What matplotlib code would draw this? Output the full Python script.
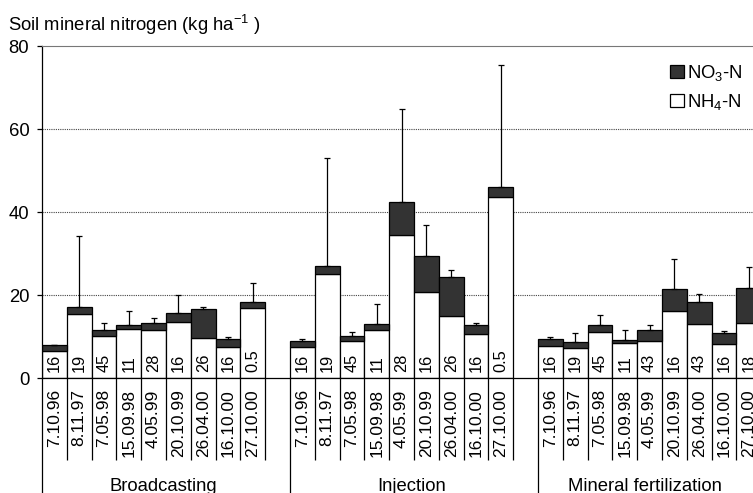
import matplotlib
matplotlib.use('Agg')
import matplotlib.pyplot as plt
import numpy as np
from matplotlib.patches import Patch, Rectangle

plt.rcParams['font.family'] = 'Liberation Sans'
plt.rcParams['mathtext.fontset'] = 'custom'
plt.rcParams['mathtext.rm'] = 'Liberation Sans'
plt.rcParams['mathtext.it'] = 'Liberation Sans:italic'

groups = ['Broadcasting', 'Injection', 'Mineral fertilization']
dates = ['7.10.96', '8.11.97', '7.05.98', '15.09.98', '4.05.99',
         '20.10.99', '26.04.00', '16.10.00', '27.10.00']

# NH4-N, NO3-N (kg/ha) and upper error per sampling date
nh4_broadcast = [6.6, 15.5, 10.2, 11.8, 11.6, 13.6, 9.7, 7.6, 16.9]
no3_broadcast = [1.5, 1.6, 1.4, 1.0, 1.8, 2.1, 6.9, 1.8, 1.4]
sd_broadcast = [0.0, 17.2, 1.8, 3.5, 1.1, 4.4, 0.7, 0.6, 4.7]
n_broadcast = ['16', '19', '45', '11', '28', '16', '26', '16', '0.5']

nh4_injection = [7.5, 25.1, 9.1, 11.7, 34.5, 20.7, 15.0, 10.7, 43.8]
no3_injection = [1.5, 1.9, 1.1, 1.5, 7.9, 8.8, 9.3, 2.1, 2.2]
sd_injection = [0.5, 26.0, 1.0, 4.6, 22.6, 7.4, 1.7, 0.6, 29.6]
n_injection = ['16', '19', '45', '11', '28', '16', '26', '16', '0.5']

nh4_mineral = [7.8, 7.4, 11.2, 8.5, 9.1, 16.3, 13.2, 8.2, 13.4]
no3_mineral = [1.6, 1.4, 1.7, 0.8, 2.5, 5.3, 5.2, 2.7, 8.3]
sd_mineral = [0.6, 2.0, 2.4, 2.3, 1.3, 7.1, 1.8, 0.6, 5.0]
n_mineral = ['16', '19', '45', '11', '43', '16', '43', '16', '18']

yticks = [0, 20, 40, 60, 80]

FS = 13.3
W, H = 753, 493
fig = plt.figure(figsize=(W / 100, H / 100), dpi=100)
# axes runs past the right edge of the picture, like the cropped original
ax = fig.add_axes([42 / W, 114.7 / H, 744 / W, 332 / H])

data = [(nh4_broadcast, no3_broadcast, sd_broadcast, n_broadcast),
        (nh4_injection, no3_injection, sd_injection, n_injection),
        (nh4_mineral, no3_mineral, sd_mineral, n_mineral)]

xtr = ax.get_xaxis_transform()
clip = Rectangle((0, -82 / 332), 30, 82 / 332, transform=xtr)

for g, (nh4, no3, sd, n) in enumerate(data):
    x = g * 10 + np.arange(len(dates)) + 0.5
    nh4 = np.array(nh4)
    no3 = np.array(no3)
    ax.bar(x, nh4, width=1.0, color='white', edgecolor='black', linewidth=0.9, zorder=2)
    ax.bar(x, no3, bottom=nh4, width=1.0, color='#333333', edgecolor='black', linewidth=0.9, zorder=2)
    ax.errorbar(x, nh4 + no3, yerr=[np.zeros(len(sd)), sd], fmt='none', ecolor='black',
                elinewidth=0.9, capsize=2.5, capthick=0.9, zorder=3)

    for xi, lab in zip(x, n):
        ax.text(xi, 1.4, lab, rotation=90, ha='center', va='bottom', fontsize=11.8, zorder=4)
    for xi, d in zip(x, dates):
        t = ax.text(xi, -11 / 332, d, transform=xtr, rotation=90, ha='center', va='top',
                    fontsize=12.5, clip_on=True)
        t.set_clip_path(clip)

    # category separators under the axis
    ax.vlines(g * 10 + np.arange(1, 10), -82 / 332, 0, transform=xtr, clip_on=False,
              color='black', lw=0.9)

ax.vlines([0, 10, 20, 30], -115 / 332, 0, transform=xtr, clip_on=False, color='black', lw=0.9)

group_centres = [4.9, 14.9, 24.3]
for xc, name in zip(group_centres, groups):
    ax.text(xc, -113 / 332, name, transform=xtr, ha='center', va='baseline', fontsize=FS)

for v in yticks[1:-1]:
    ax.axhline(v, color='#444444', lw=0.8, ls=(0, (1, 1)), zorder=1)

ax.set_xlim(0, 30)
ax.set_ylim(0, 80)
ax.set_xticks([])
ax.set_yticks(yticks)
ax.tick_params(axis='y', direction='out', length=3.6, width=0.9, pad=5.5, labelsize=FS)
ax.spines['right'].set_visible(False)
ax.spines['top'].set_color('#777777')
ax.spines['left'].set_linewidth(0.9)
ax.spines['bottom'].set_linewidth(0.9)

handles = [Patch(facecolor='#333333', edgecolor='black', lw=0.9),
           Patch(facecolor='white', edgecolor='black', lw=0.9)]
fig.legend(handles, ['NO$_3$-N', 'NH$_4$-N'], loc='upper left',
           bbox_to_anchor=(670 / W, 1 - 63 / H), frameon=False, fontsize=FS,
           handlelength=0.75, handleheight=0.7, handletextpad=0.15,
           labelspacing=0.5, borderpad=0, borderaxespad=0)

fig.text(8 / W, 1 - 31 / H, 'Soil mineral nitrogen (kg ha$^{-1}$ )', fontsize=FS, va='baseline')

fig.savefig('out.png', dpi=100)
